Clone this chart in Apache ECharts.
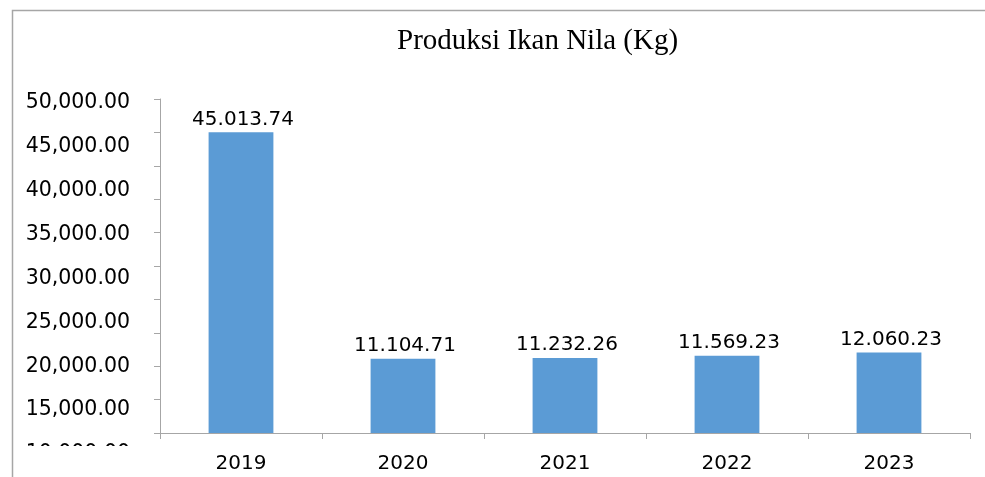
<!DOCTYPE html>
<html>
<head>
<meta charset="utf-8">
<script src="https://cdn.jsdelivr.net/npm/echarts@6/dist/echarts.min.js"></script>
<style>
html,body{margin:0;padding:0;background:#fff;overflow:hidden;}
#chart{width:985px;height:477px;}
</style>
</head>
<body>
<div id="chart"></div>
<script>
// ---- data ----
var titleText = 'Produksi Ikan Nila (Kg)';
var categories = ['2019', '2020', '2021', '2022', '2023'];
var production = [45013.74, 11104.71, 11232.26, 11569.23, 12060.23];
// tick labels as printed on the left (their spacing differs from the bar scale in the original)
var yTickLabelValues = [10000, 15000, 20000, 25000, 30000, 35000, 40000, 45000, 50000];
// real scale of the bars
var yScaleMin = 0, yScaleMax = 50000, yScaleStep = 5000;

function groupNum(v, sep) {
  var s = v.toFixed(2);
  var parts = s.split('.');
  var intPart = parts[0].replace(/\B(?=(\d{3})+(?!\d))/g, sep);
  return intPart + '.' + parts[1];
}

var numFont = 'DejaVu Sans';
var chart = echarts.init(document.getElementById('chart'), null, {renderer: 'canvas'});
chart.setOption({
  animation: false,
  backgroundColor: '#ffffff',
  title: {
    text: titleText,
    left: 397,
    top: 27,
    padding: 0,
    textStyle: {fontFamily: 'Liberation Serif', fontSize: 29, fontWeight: 'normal', color: '#000'}
  },
  grid: [
    {left: 160, right: 15, top: 99, bottom: 44, containLabel: false},
    {left: 160, right: 15, top: 103, bottom: 23, containLabel: false}
  ],
  xAxis: [
    {
      type: 'category', gridIndex: 0, data: categories,
      boundaryGap: true,
      axisLine: {lineStyle: {color: '#a6a6a6', width: 1}},
      axisTick: {show: true, length: 6, inside: false, alignWithLabel: false, lineStyle: {color: '#a6a6a6'}},
      axisLabel: {margin: 21, fontFamily: numFont, fontSize: 20, color: '#000'}
    },
    {type: 'category', gridIndex: 1, data: categories, show: false}
  ],
  yAxis: [
    {
      type: 'value', gridIndex: 0, min: yScaleMin, max: yScaleMax, interval: yScaleStep,
      axisLine: {show: true, lineStyle: {color: '#a6a6a6', width: 1}},
      axisTick: {show: true, length: 6, inside: false, lineStyle: {color: '#a6a6a6'}},
      axisLabel: {show: false},
      splitLine: {show: false}
    },
    {
      type: 'value', gridIndex: 1,
      min: yTickLabelValues[0], max: yTickLabelValues[yTickLabelValues.length - 1],
      interval: yTickLabelValues[1] - yTickLabelValues[0],
      axisLine: {show: false}, axisTick: {show: false}, splitLine: {show: false},
      axisLabel: {
        margin: 30, fontFamily: numFont, fontSize: 20.5, color: '#000',
        formatter: function (v) { return groupNum(v, ','); }
      }
    }
  ],
  series: [
    {
      type: 'bar', xAxisIndex: 0, yAxisIndex: 0,
      data: production,
      barWidth: '40%',
      itemStyle: {color: '#5b9bd5'},
      label: {
        show: true, position: 'top', distance: 3,
        fontFamily: numFont, fontSize: 20, color: '#000',
        offset: [2, 0],
        formatter: function (p) { return groupNum(p.value, '.'); }
      }
    }
  ],
  graphic: [
    {
      type: 'rect', z: 100, silent: true,
      shape: {x: 14, y: 446, width: 140, height: 31},
      style: {fill: '#ffffff'}
    },
    {
      type: 'polyline', z: 101, silent: true,
      shape: {points: [[12.5, 477], [12.5, 10.5], [985, 10.5]]},
      style: {fill: null, stroke: '#a6a6a6', lineWidth: 1.5}
    }
  ]
});
</script>
</body>
</html>
